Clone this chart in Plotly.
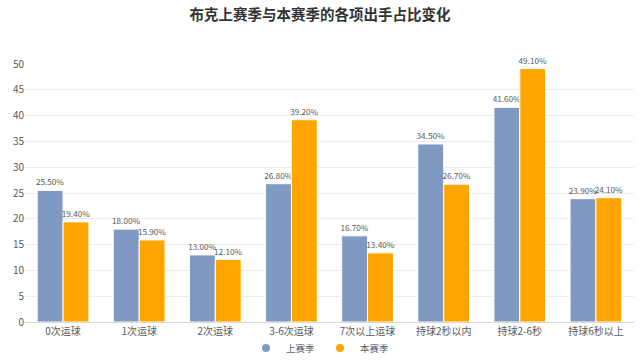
import plotly.graph_objects as go

categories = ["0次运球", "1次运球", "2次运球", "3-6次运球", "7次以上运球", "持球2秒以内", "持球2-6秒", "持球6秒以上"]
last_season = [25.5, 18.0, 13.0, 26.8, 16.7, 34.5, 41.6, 23.9]
this_season = [19.4, 15.9, 12.1, 39.2, 13.4, 26.7, 49.1, 24.1]
series_names = ["上赛季", "本赛季"]
colors = ["#7f99c2", "#ffa500"]

font_family = "Noto Sans CJK SC, Microsoft YaHei, sans-serif"

fig = go.Figure()
for name, vals, col in zip(series_names, [last_season, this_season], colors):
    fig.add_trace(go.Bar(
        x=categories, y=vals, name=name,
        marker=dict(color=col, line=dict(color="white", width=1)),
        text=[f"{v:.2f}%" for v in vals], textposition="outside",
        textfont=dict(size=8.2, color="#595959"),
        constraintext="none",
        cliponaxis=False, showlegend=False,
    ))
    fig.add_trace(go.Scatter(
        x=[None], y=[None], mode="markers", name=name,
        marker=dict(color=col, size=8, symbol="circle"),
    ))

fig.update_layout(
    width=640, height=360,
    margin=dict(l=25, r=6, t=64, b=38),
    paper_bgcolor="white", plot_bgcolor="white",
    font=dict(family=font_family, size=10, color="#595959"),
    title=dict(text="<b>布克上赛季与本赛季的各项出手占比变化</b>", x=0.5, xanchor="center",
               y=0.958, yanchor="middle", font=dict(size=14.5, color="#333333")),
    barmode="group", bargap=0.32, bargroupgap=0.0,
    legend=dict(orientation="h", x=0.5, xanchor="center", xref="container",
                y=0.033, yanchor="middle", yref="container",
                font=dict(size=9.5, color="#595959"), itemwidth=30,
                bgcolor="rgba(0,0,0,0)", tracegroupgap=0),
    xaxis=dict(showline=True, linecolor="#d9d9d9", linewidth=1, ticks="",
               tickfont=dict(size=10, color="#595959"), automargin=False),
    yaxis=dict(range=[0, 50], dtick=5, showgrid=True, gridcolor="#ececec",
               zeroline=False, tickfont=dict(size=10, color="#595959"), ticks="",
               automargin=False),
)

fig.write_html("out.html", config={"displayModeBar": False},
               post_script="document.body.style.margin='0';")
